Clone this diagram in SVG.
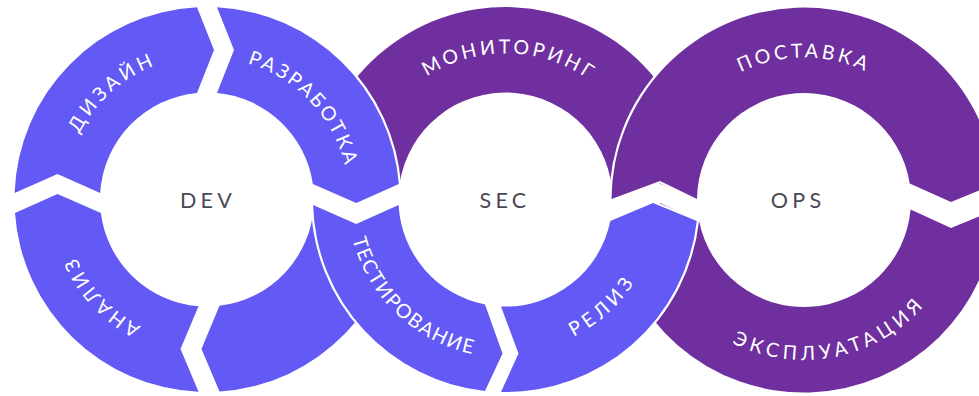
<svg xmlns="http://www.w3.org/2000/svg" width="979" height="396" viewBox="0 0 979 396">
  <style>
    .blue { fill: #6359f4; }
    .purple { fill: #6f2f9e; }
    /* segments lying on top of a neighbouring ring get a white halo */
    .front { stroke: #ffffff; stroke-width: 4.4; stroke-linejoin: round; paint-order: stroke; }
    .lbl { font-family: Lato, "Open Sans", "DejaVu Sans", sans-serif; font-weight: 400; font-size: 19.5px; fill: #ffffff; text-anchor: middle; }
    .hub { font-family: Lato, "Open Sans", "DejaVu Sans", sans-serif; font-weight: 400; font-size: 21.5px; fill: #4a4953; letter-spacing: 4.3px; text-anchor: middle; }
  </style>
  <defs>
    <!-- baselines for the ring captions (clockwise = letters face outward, counter-clockwise = letters face inward) -->
    <path id="p-design" d="M 91.48 284.97 A 143.7 143.7 0 0 1 305.92 95.26"/>
    <path id="p-dev-build" d="M 119.19 87.9 A 142 142 0 0 1 312.86 294.14"/>
    <path id="p-analysis" d="M 294.23 312.8 A 143 143 0 0 1 101.39 103.08"/>
    <path id="p-monitoring" d="M 360.43 182.97 A 146 146 0 0 1 651.22 190.59"/>
    <path id="p-testing" d="M 382.02 100.92 A 158 158 0 0 0 609.99 318.02"/>
    <path id="p-release" d="M 402.13 312.31 A 153 153 0 0 0 626.89 106.35"/>
    <path id="p-delivery" d="M 662.04 187.58 A 142.5 142.5 0 0 1 945.96 187.58"/>
    <path id="p-operation" d="M 650.59 245.44 A 160 160 0 0 0 962.97 181.89"/>
  </defs>

  <rect width="979" height="396" fill="#ffffff"/>

  <!-- back layer: parts that pass underneath a neighbouring ring -->
  <g id="sec-monitoring">
    <path class="purple" d="M 698 199 A 192.5 192.5 0 0 0 313.63 184 L 356.25 203 L 399.63 184 A 107 107 0 0 1 612.5 199 L 653 181 Z"/>
    <text class="lbl" style="letter-spacing:3.2px"><textPath href="#p-monitoring" startOffset="50%">МОНИТОРИНГ</textPath></text>
  </g>
  <g id="dev-lower-right">
    <path class="blue" d="M 399.42 205 A 192.5 192.5 0 0 1 219.5 391.59 L 201.5 349 L 219.5 305.77 A 107 107 0 0 0 313.86 205 L 356.25 224 Z"/>
  </g>
  <g id="ops-operation">
    <path class="purple" d="M 996.27 209.5 A 192.5 192.5 0 0 1 612.65 221 L 660 203 L 699.08 221 A 107 107 0 0 0 910.58 209.5 L 951 228 Z"/>
    <text class="lbl" style="letter-spacing:4.8px"><textPath href="#p-operation" startOffset="50%">ЭКСПЛУАТАЦИЯ</textPath></text>
  </g>

  <!-- DEV ring -->
  <g id="dev-design">
    <path class="blue" d="M 14.61 193 A 192.5 192.5 0 0 1 197 7.26 L 214 50 L 197 92.97 A 107 107 0 0 0 100.2 193 L 57.5 174 Z"/>
    <text class="lbl" style="letter-spacing:3.8px"><textPath href="#p-design" startOffset="50%">ДИЗАЙН</textPath></text>
  </g>
  <g id="dev-analysis">
    <path class="blue" d="M 198.5 391.81 A 192.5 192.5 0 0 1 14.97 213 L 57.5 194 L 100.85 213 A 107 107 0 0 0 198.5 306.16 L 180.5 349 Z"/>
    <text class="lbl" style="letter-spacing:3px"><textPath href="#p-analysis" startOffset="50%">АНАЛИЗ</textPath></text>
  </g>
  <g id="dev-build">
    <path class="blue front" d="M 217 7.26 A 192.5 192.5 0 0 1 398.88 184 L 356.25 203 L 312.87 184 A 107 107 0 0 0 217 92.97 L 234 50 Z"/>
    <text class="lbl" style="letter-spacing:2.6px"><textPath href="#p-dev-build" startOffset="50%">РАЗРАБОТКА</textPath></text>
  </g>

  <!-- OPS ring, upper half -->
  <g id="ops-delivery">
    <path class="purple front" d="M 611.5 199 A 192.5 192.5 0 0 1 995.79 183.5 L 951 202 L 909.72 183.5 A 107 107 0 0 0 697 199 L 660 181 Z"/>
    <text class="lbl" style="letter-spacing:3.3px"><textPath href="#p-delivery" startOffset="50%">ПОСТАВКА</textPath></text>
  </g>

  <!-- SEC ring, lower half -->
  <g id="sec-testing">
    <path class="blue front" d="M 313.08 205 A 192.5 192.5 0 0 0 485 390.91 L 502.5 353.5 L 485 304.52 A 107 107 0 0 1 398.64 205 L 356.25 224 Z"/>
    <text class="lbl" style="letter-spacing:1.7px"><textPath href="#p-testing" startOffset="50%">ТЕСТИРОВАНИЕ</textPath></text>
  </g>
  <g id="sec-release">
    <path class="blue front" d="M 501 391.95 A 192.5 192.5 0 0 0 696.8 221 L 653 203 L 610.32 221 A 107 107 0 0 1 501 306.41 L 518.5 353.5 Z"/>
    <text class="lbl" style="letter-spacing:4.6px"><textPath href="#p-release" startOffset="50%">РЕЛИЗ</textPath></text>
  </g>

  <!-- ring hubs -->
  <g id="dev-hub"><text class="hub" x="208" y="208">DEV</text></g>
  <g id="sec-hub"><text class="hub" x="505" y="208">SEC</text></g>
  <g id="ops-hub"><text class="hub" x="798" y="208">OPS</text></g>
</svg>
